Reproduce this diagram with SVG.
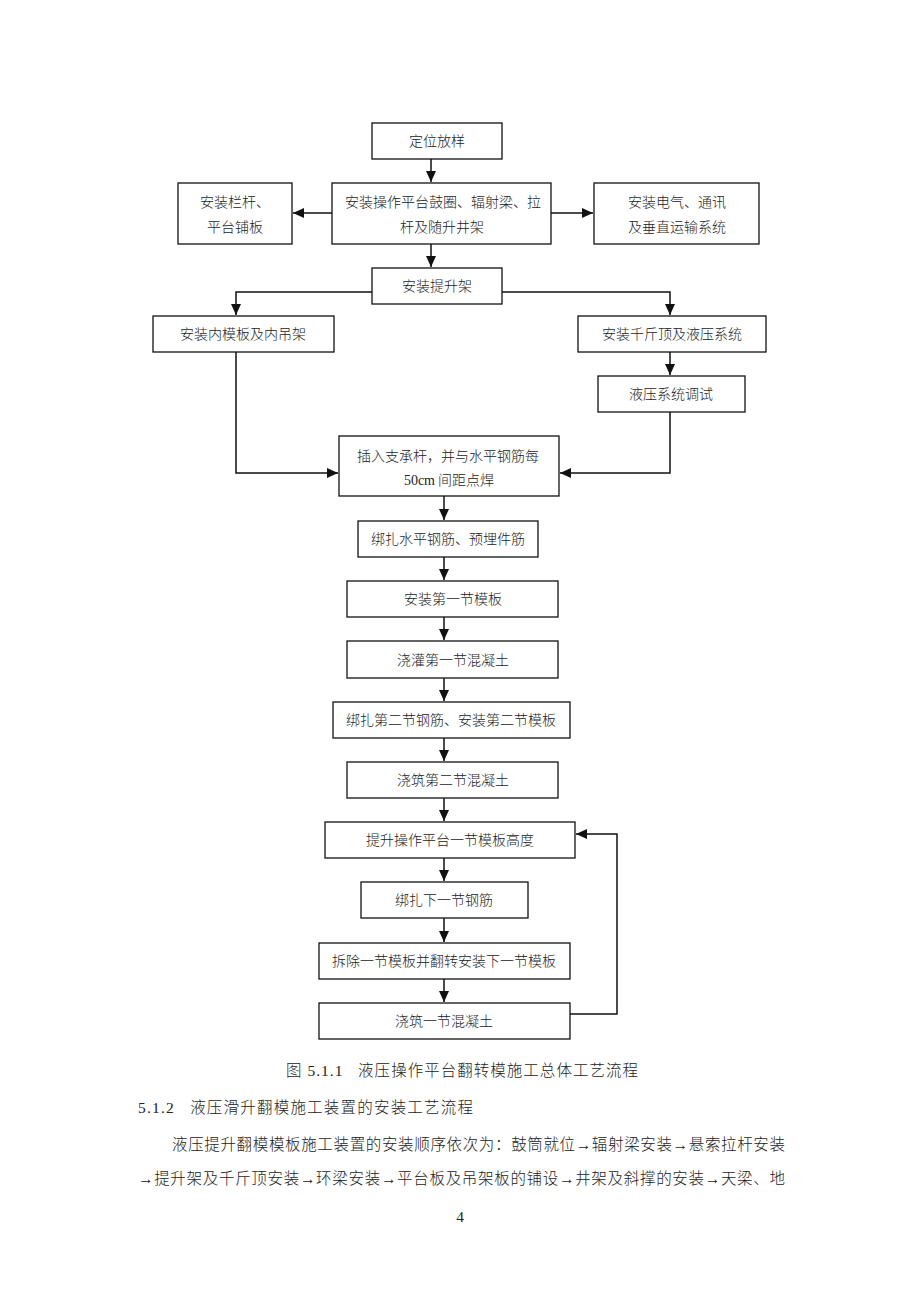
<svg xmlns="http://www.w3.org/2000/svg" width="920" height="1302" viewBox="0 0 920 1302">
<style>
.box{fill:#fff;stroke:#111;stroke-width:1.3}
.t{font-family:"Noto Sans CJK SC","Noto Sans CJK JP",sans-serif;font-size:14px;font-weight:300;fill:#222;text-anchor:middle}
.c{fill:none;stroke:#111;stroke-width:1.5}
.p{font-family:"Liberation Serif","Noto Sans CJK SC",serif;font-size:15.5px;font-weight:300;fill:#222;white-space:pre}
</style>
<defs>
<marker id="ah" markerUnits="userSpaceOnUse" markerWidth="12" markerHeight="10" refX="11" refY="5" orient="auto">
<path d="M0,0 L11,5 L0,10 Z" fill="#111"/>
</marker>
</defs>
<rect width="920" height="1302" fill="#fff"/>
<g id="connectors">
<line class="c" x1="431" y1="159" x2="431" y2="182" marker-end="url(#ah)"/>
<line class="c" x1="431" y1="244" x2="431" y2="267" marker-end="url(#ah)"/>
<line class="c" x1="332" y1="213" x2="293" y2="213" marker-end="url(#ah)"/>
<line class="c" x1="551" y1="213" x2="593" y2="213" marker-end="url(#ah)"/>
<polyline class="c" points="372,292 236,292 236,315" marker-end="url(#ah)"/>
<polyline class="c" points="502,292 670,292 670,315" marker-end="url(#ah)"/>
<line class="c" x1="670" y1="352" x2="670" y2="375" marker-end="url(#ah)"/>
<polyline class="c" points="236,352 236,473 338,473" marker-end="url(#ah)"/>
<polyline class="c" points="670,412 670,473 560,473" marker-end="url(#ah)"/>
<line class="c" x1="444" y1="496" x2="444" y2="520" marker-end="url(#ah)"/>
<line class="c" x1="444" y1="557" x2="444" y2="580" marker-end="url(#ah)"/>
<line class="c" x1="444" y1="617" x2="444" y2="640" marker-end="url(#ah)"/>
<line class="c" x1="444" y1="678" x2="444" y2="701" marker-end="url(#ah)"/>
<line class="c" x1="444" y1="738" x2="444" y2="761" marker-end="url(#ah)"/>
<line class="c" x1="444" y1="798" x2="444" y2="821" marker-end="url(#ah)"/>
<line class="c" x1="444" y1="858" x2="444" y2="881" marker-end="url(#ah)"/>
<line class="c" x1="444" y1="918" x2="444" y2="942" marker-end="url(#ah)"/>
<line class="c" x1="444" y1="979" x2="444" y2="1002" marker-end="url(#ah)"/>
<polyline class="c" points="570,1014 617,1014 617,834 576,834" marker-end="url(#ah)"/>
</g>
<g id="n1"><rect class="box" x="372" y="123" width="130" height="36"/><text class="t" x="437" y="146">定位放样</text></g>
<g id="n2"><rect class="box" x="178" y="183" width="114" height="61"/><text class="t" x="235" y="207">安装栏杆、</text><text class="t" x="235" y="232">平台铺板</text></g>
<g id="n3"><rect class="box" x="332" y="183" width="219" height="61"/><text class="t" x="443" y="207">安装操作平台鼓圈、辐射梁、拉</text><text class="t" x="442" y="232">杆及随升井架</text></g>
<g id="n4"><rect class="box" x="594" y="183" width="165" height="61"/><text class="t" x="677" y="207">安装电气、通讯</text><text class="t" x="677" y="232">及垂直运输系统</text></g>
<g id="n5"><rect class="box" x="372" y="268" width="130" height="36"/><text class="t" x="437" y="291">安装提升架</text></g>
<g id="n6"><rect class="box" x="153" y="316" width="181" height="36"/><text class="t" x="243" y="339">安装内模板及内吊架</text></g>
<g id="n7"><rect class="box" x="578" y="316" width="188" height="36"/><text class="t" x="672" y="339">安装千斤顶及液压系统</text></g>
<g id="n8"><rect class="box" x="598" y="376" width="147" height="36"/><text class="t" x="671" y="399">液压系统调试</text></g>
<g id="n9"><rect class="box" x="339" y="436" width="220" height="60"/><text class="t" x="448" y="461">插入支承杆，并与水平钢筋每</text><text class="t" x="449" y="485"><tspan font-family="Liberation Serif">50cm</tspan> 间距点焊</text></g>
<g id="n10"><rect class="box" x="358" y="521" width="180" height="36"/><text class="t" x="448" y="544">绑扎水平钢筋、预埋件筋</text></g>
<g id="n11"><rect class="box" x="347" y="581" width="211" height="36"/><text class="t" x="453" y="604">安装第一节模板</text></g>
<g id="n12"><rect class="box" x="347" y="641" width="211" height="37"/><text class="t" x="453" y="665">浇灌第一节混凝土</text></g>
<g id="n13"><rect class="box" x="333" y="702" width="237" height="36"/><text class="t" x="451" y="725">绑扎第二节钢筋、安装第二节模板</text></g>
<g id="n14"><rect class="box" x="347" y="762" width="211" height="36"/><text class="t" x="453" y="785">浇筑第二节混凝土</text></g>
<g id="n15"><rect class="box" x="325" y="822" width="250" height="36"/><text class="t" x="450" y="845">提升操作平台一节模板高度</text></g>
<g id="n16"><rect class="box" x="361" y="882" width="167" height="36"/><text class="t" x="444" y="905">绑扎下一节钢筋</text></g>
<g id="n17"><rect class="box" x="319" y="943" width="251" height="36"/><text class="t" x="444" y="966">拆除一节模板并翻转安装下一节模板</text></g>
<g id="n18"><rect class="box" x="319" y="1003" width="251" height="36"/><text class="t" x="444" y="1026">浇筑一节混凝土</text></g>
<g id="text">
<text class="p" x="286" y="1076" textLength="352" lengthAdjust="spacing">图 5.1.1   液压操作平台翻转模施工总体工艺流程</text>
<text class="p" x="138" y="1113" textLength="335" lengthAdjust="spacing">5.1.2   液压滑升翻模施工装置的安装工艺流程</text>
<text class="p" x="172" y="1150" textLength="613" lengthAdjust="spacing">液压提升翻模模板施工装置的安装顺序依次为：鼓筒就位→辐射梁安装→悬索拉杆安装</text>
<text class="p" x="138" y="1184" textLength="647" lengthAdjust="spacing">→提升架及千斤顶安装→环梁安装→平台板及吊架板的铺设→井架及斜撑的安装→天梁、地</text>
<text class="p" x="460" y="1222" text-anchor="middle" font-size="13">4</text>
</g>
</svg>
